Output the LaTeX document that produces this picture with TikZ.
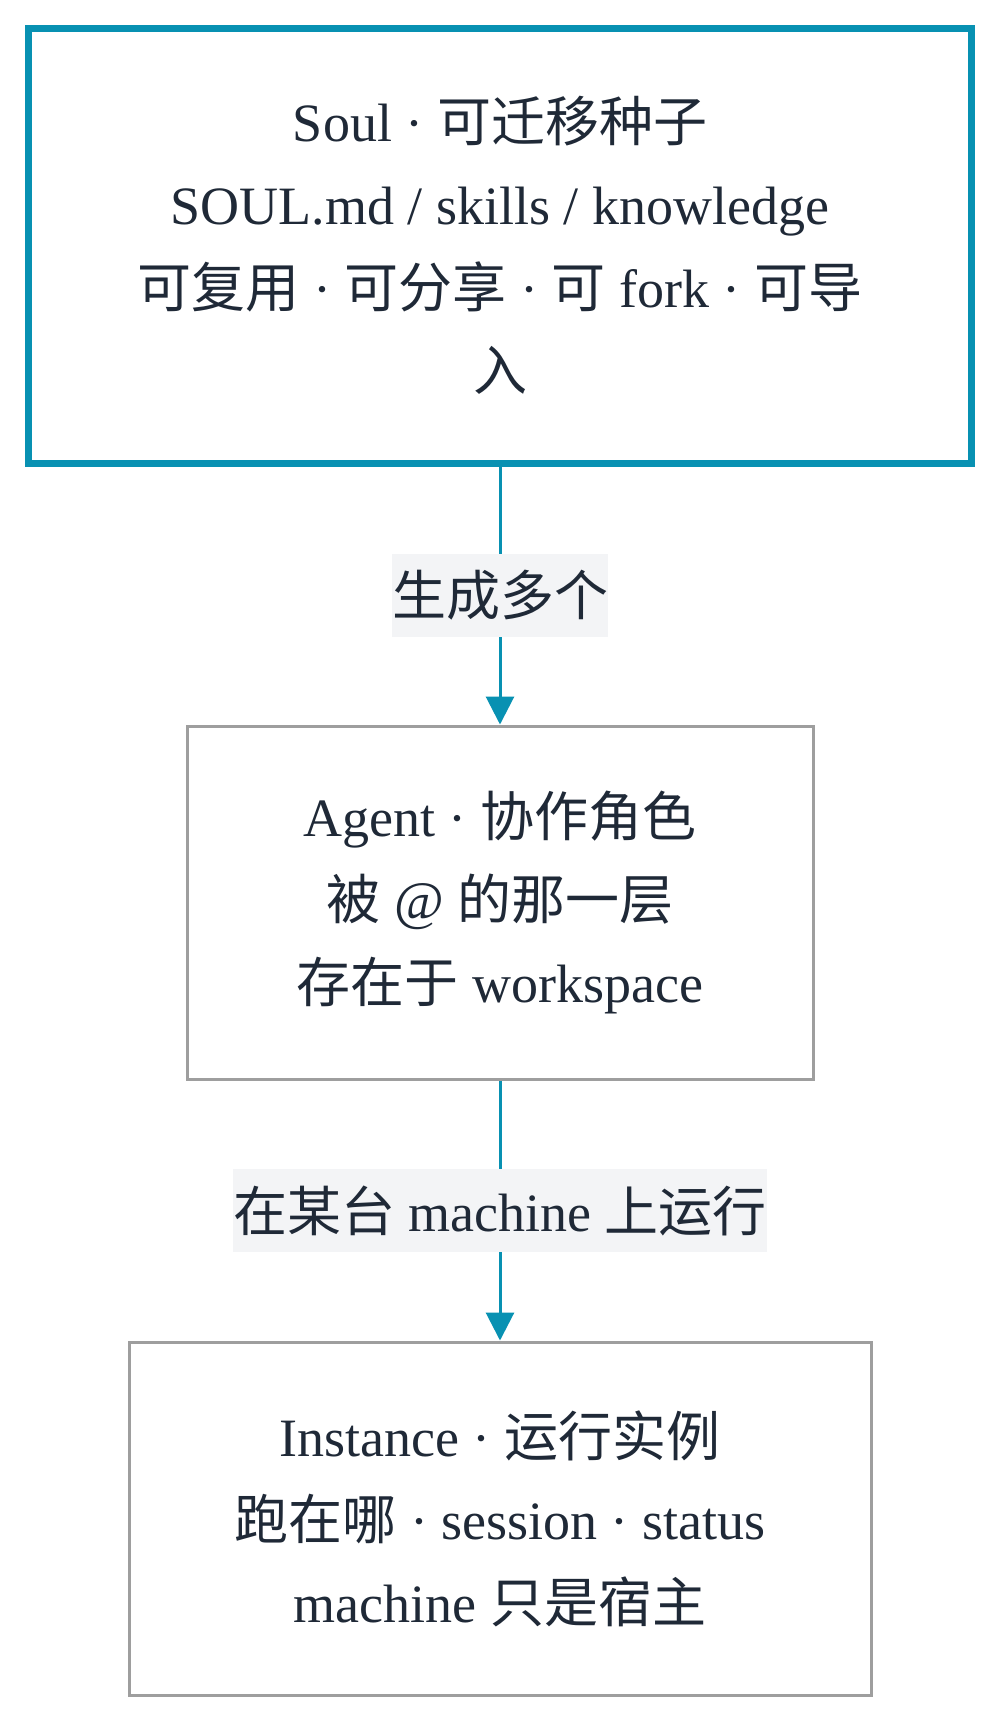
\documentclass[tikz,border=0pt]{standalone}
\usepackage{fontspec}
\setmainfont{Liberation Serif}
\newfontfamily\cjk{Noto Sans CJK SC}
\newcommand\zh[1]{{\cjk #1}}
\usetikzlibrary{arrows.meta}
\definecolor{soulteal}{HTML}{0891B2}
\definecolor{ink}{HTML}{1F2937}
\definecolor{boxgray}{HTML}{9E9E9E}
\definecolor{lblbg}{HTML}{F3F4F6}
\tikzset{
  box/.style={draw, rectangle, inner sep=0pt, align=center, text=ink,
    font=\fontsize{54}{83}\selectfont},
  soulbox/.style={box, draw=soulteal, line width=7pt,
    minimum width=943pt, minimum height=434.5pt},
  plainbox/.style={box, draw=boxgray, line width=3pt, minimum height=353pt},
  lbl/.style={fill=lblbg, text=ink, inner sep=0pt, minimum height=83pt,
    font=\fontsize{54}{83}\selectfont},
  flow/.style={draw=soulteal, line width=3pt,
    -{Triangle[length=28pt,width=28pt]}}
}
\begin{document}
\begin{tikzpicture}[x=1pt,y=-1pt]
  \fill[white] (0,0) rectangle (1000,1725);
  \useasboundingbox (0,0) rectangle (1000,1725);
  \node[soulbox] (soul) at (500,245.75)
    {Soul · \zh{可迁移种子}\\
     SOUL.md / skills / knowledge\\
     \zh{可复用} · \zh{可分享} · \zh{可} fork · \zh{可导}\\
     \zh{入}};
  \node[plainbox, minimum width=626pt] (agent) at (500,902.5)
    {Agent · \zh{协作角色}\\
     \zh{被} @ \zh{的那一层}\\
     \zh{存在于} workspace};
  \node[plainbox, minimum width=742pt] (inst) at (500,1518.5)
    {Instance · \zh{运行实例}\\
     \zh{跑在哪} · session · status\\
     machine \zh{只是宿主}};
  \draw[flow] (soul) -- node[lbl] (l1) {\zh{生成多个}} (agent);
  \draw[flow] (agent) -- node[lbl] (l2) {\zh{在某台} machine \zh{上运行}} (inst);
\end{tikzpicture}
\end{document}
